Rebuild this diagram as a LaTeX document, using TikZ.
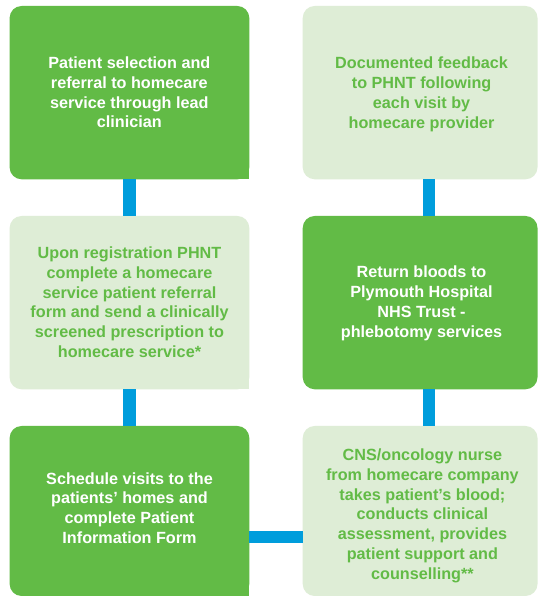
\documentclass[tikz,border=0pt]{standalone}
\usepackage{fontspec}
\setmainfont{Liberation Sans}
\usetikzlibrary{calc}
\definecolor{leafgreen}{HTML}{62BB46}
\definecolor{palegreen}{HTML}{DEEDD6}
\definecolor{linkblue}{HTML}{009DDC}
\begin{document}
\begin{tikzpicture}[x=1pt,y=1pt,
  box/.style={rectangle, rounded corners=12pt, inner sep=0pt, outer sep=0pt,
    minimum width=239.7pt, minimum height=173.3pt},
  rbox/.style={box, minimum width=234.8pt},
  darkbox/.style={fill=leafgreen},
  lightbox/.style={fill=palegreen},
  lbl/.style={align=center, inner sep=0pt, text depth=0pt,
    font=\fontsize{16.2}{19.8}\selectfont\bfseries},
  onlight/.style={lbl, text=leafgreen},
  ondark/.style={lbl, text=white},
  link/.style={draw=linkblue, line width=12.3pt}]

% page
\fill[white] (0,0) rectangle (538,596);
\useasboundingbox (0,0) rectangle (538,596);

% boxes of the left column
\node[box, darkbox]  (A) at (129.45,503.35) {};
\node[box, lightbox] (B) at (129.45,293.35) {};
\node[box, darkbox, minimum height=170pt] (C) at (129.45,85) {};
% boxes of the right column
\node[rbox, lightbox] (D) at (420.1,503.35) {};
\node[rbox, darkbox]  (E) at (420.1,293.35) {};
\node[rbox, lightbox, minimum height=170pt] (F) at (420.1,85) {};

% left-column boxes keep a square lower right corner
\fill[leafgreen] (A.south east) rectangle ++(-14,14);
\fill[palegreen] (B.south east) rectangle ++(-14,14);
\fill[leafgreen] (C.south east) rectangle ++(-14,14);

% connector lines
\coordinate (cl) at (129.5,0);
\coordinate (cr) at (428.65,0);
\coordinate (ch) at (0,59.3);
\draw[link] (A.south -| cl) -- (B.north -| cl);
\draw[link] (B.south -| cl) -- (C.north -| cl);
\draw[link] (D.south -| cr) -- (E.north -| cr);
\draw[link] (E.south -| cr) -- (F.north -| cr);
\draw[link] (C.east |- ch) -- (F.west |- ch);

% texts
\node[ondark] (At) at (129.3,503.7) {Patient selection and\\referral to homecare\\service through lead\\clinician};
\node[onlight] (Bt) at (129.5,293.8) {Upon registration PHNT\\complete a homecare\\service patient referral\\form and send a clinically\\screened prescription to\\homecare service*};
\node[ondark] (Ct) at (129.5,88) {Schedule visits to the\\patients’ homes and\\complete Patient\\Information Form};
\node[onlight] (Dt) at (421.6,503.5) {Documented feedback\\to PHNT following\\each visit by\\homecare provider};
\node[ondark] (Et) at (421.5,294.5) {Return bloods to\\Plymouth Hospital\\NHS Trust -\\phlebotomy services};
\node[onlight] (Ft) at (422.4,82) {CNS/oncology nurse\\from homecare company\\takes patient’s blood;\\conducts clinical\\assessment, provides\\patient support and\\counselling**};
\end{tikzpicture}
\end{document}
